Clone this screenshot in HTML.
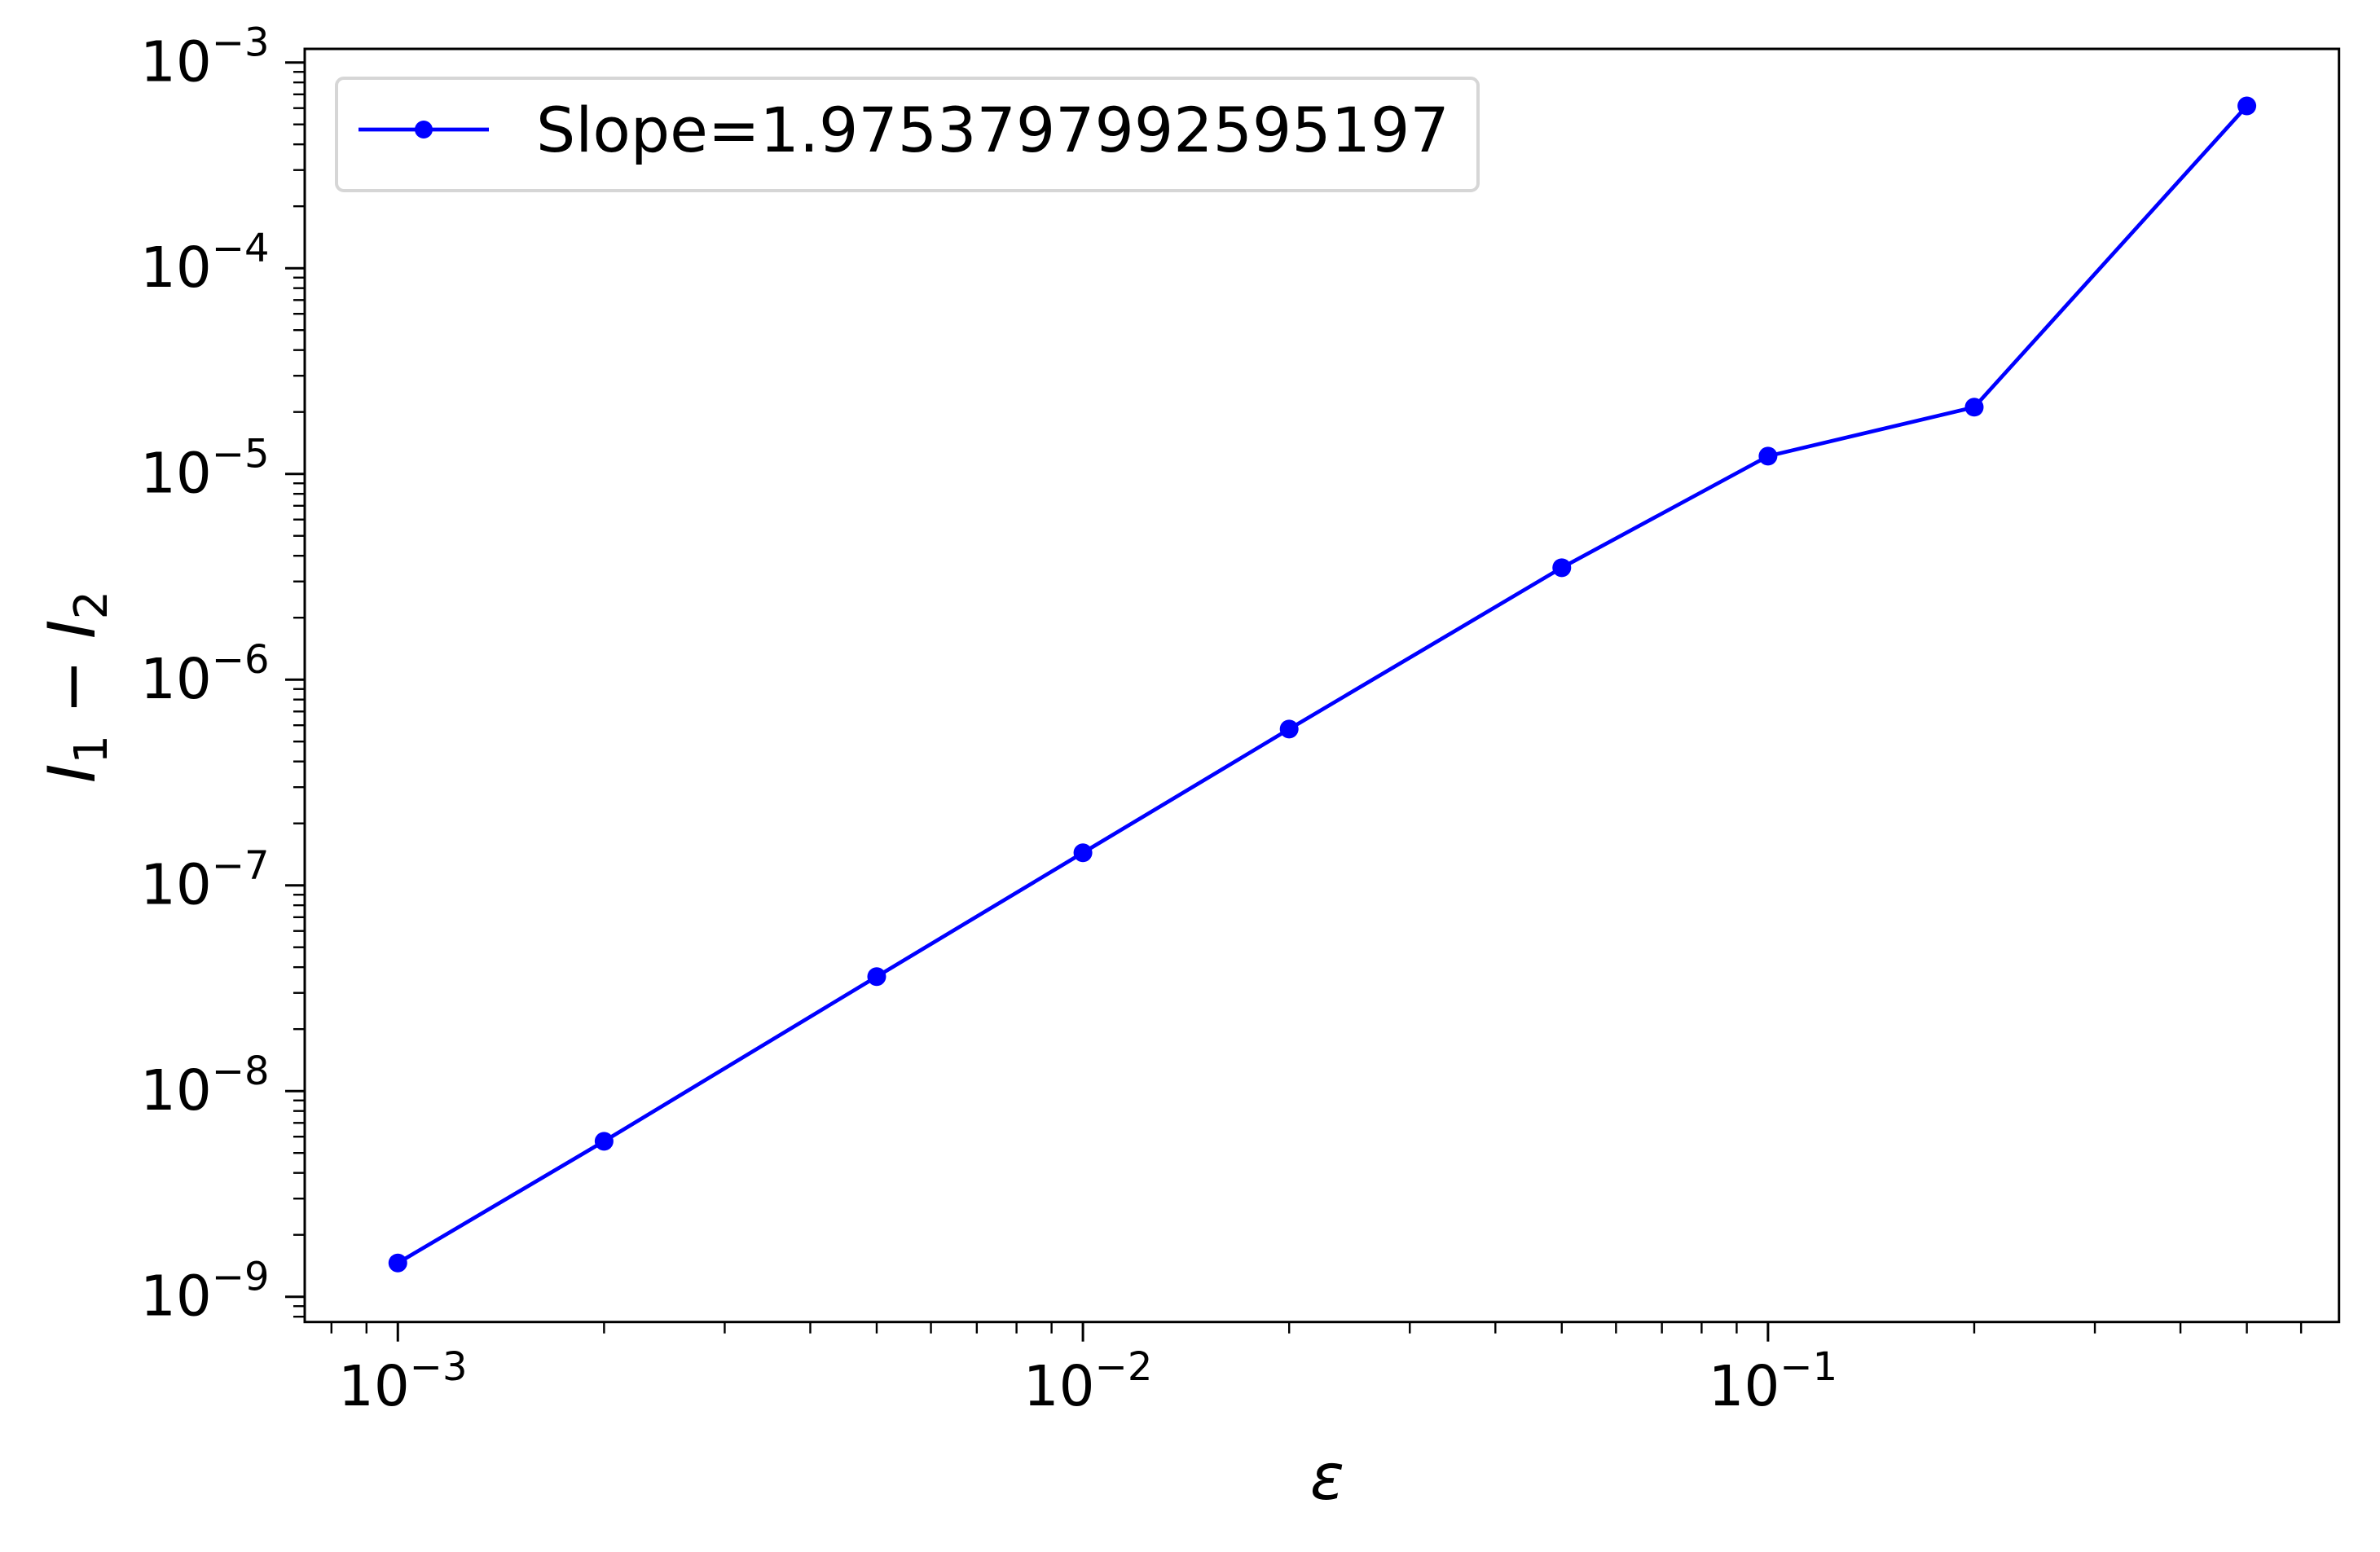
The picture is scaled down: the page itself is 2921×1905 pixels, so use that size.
<!DOCTYPE html>
<html><head><meta charset="utf-8">
<style>
html,body{margin:0;padding:0;background:#fff;}
svg{display:block;font-family:"DejaVu Sans","Liberation Sans",sans-serif;}
</style></head>
<body>
<svg id="chart" xmlns="http://www.w3.org/2000/svg" width="2921" height="1905" viewBox="0 0 2921 1905">
<rect x="0" y="0" width="2921" height="1905" fill="#fff"/>
<g id="ticks"></g>
<g id="series"></g>
<rect x="374" y="60" width="2496.7" height="1562.7" fill="none" stroke="#000" stroke-width="3"/>
<g>
  <rect x="413" y="96" width="1401" height="138" rx="9" fill="#fff" fill-opacity="0.8" stroke="#d6d6d6" stroke-width="4"/>
  <line x1="440" y1="159" x2="600" y2="159" stroke="#0000ff" stroke-width="4.7"/>
  <circle cx="520" cy="159" r="11" fill="#0000ff"/>
  <text x="658" y="186" font-size="76" fill="#000">Slope=1.9753797992595197</text>
</g>
<text x="1629" y="1840" font-size="78" font-style="italic" text-anchor="middle">ε</text>
<text transform="translate(116,843) rotate(-90)" font-size="80" text-anchor="middle"><tspan font-style="italic">I</tspan><tspan font-size="56" dy="15">1</tspan><tspan dy="-15"> − </tspan><tspan font-style="italic">I</tspan><tspan font-size="56" dy="15">2</tspan></text>
</svg>
<script>
const epsValues = [0.001, 0.002, 0.005, 0.01, 0.02, 0.05, 0.1, 0.2, 0.5];
const diffValues = [1.46e-9, 5.7e-9, 3.6e-8, 1.44e-7, 5.75e-7, 3.5e-6, 1.22e-5, 2.11e-5, 6.15e-4];
const xTickExps = [-3, -2, -1];
const yTickExps = [-9, -8, -7, -6, -5, -4, -3];

const NS = "http://www.w3.org/2000/svg";
const L = 374, R = 2870.7, T = 60, B = 1622.7;
const xMin = -3.1359, xMax = -0.1665, yMin = -9.1228, yMax = -2.9339;
function xs(v){ return L + (Math.log10(v) - xMin) / (xMax - xMin) * (R - L); }
function ys(v){ return B - (Math.log10(v) - yMin) / (yMax - yMin) * (B - T); }
function mk(tag, attrs, parent){ const e = document.createElementNS(NS, tag); for (const k in attrs) e.setAttribute(k, attrs[k]); parent.appendChild(e); return e; }

const tg = document.getElementById('ticks');
for (let d = -4; d <= 0; d++) {
  for (let m = 1; m <= 9; m++) {
    const v = m * Math.pow(10, d);
    const lv = Math.log10(v);
    if (lv < xMin || lv > xMax) continue;
    const x = xs(v);
    const len = m === 1 ? 24 : 14;
    const t = mk('line', {x1: x, y1: B, x2: x, y2: B + len, stroke: '#000', 'stroke-width': m === 1 ? 3 : 2.4}, tg);
    
    
  }
}
xTickExps.forEach(e => {
  const x = xs(Math.pow(10, e));
  const t = mk('text', {x: x + 6, y: 1725, 'font-size': 69, 'text-anchor': 'middle'}, tg);
  
  
  t.innerHTML = '10<tspan font-size="48" dy="-31">−' + Math.abs(e) + '</tspan>';
});
for (let d = -10; d <= -2; d++) {
  for (let m = 1; m <= 9; m++) {
    const v = m * Math.pow(10, d);
    const lv = Math.log10(v);
    if (lv < yMin || lv > yMax) continue;
    const y = ys(v);
    const len = m === 1 ? 24 : 14;
    const t = mk('line', {x1: L - len, y1: y, x2: L, y2: y, stroke: '#000', 'stroke-width': m === 1 ? 3 : 2.4}, tg);
    
    
  }
}
yTickExps.forEach(e => {
  const y = ys(Math.pow(10, e));
  const t = mk('text', {x: 172, y: y + 23, 'font-size': 69, 'text-anchor': 'start'}, tg);
  
  
  t.innerHTML = '10<tspan font-size="48" dy="-31">−' + Math.abs(e) + '</tspan>';
});

const sg = document.getElementById('series');
const pts = epsValues.map((v, i) => xs(v).toFixed(1) + ',' + ys(diffValues[i]).toFixed(1)).join(' ');
const pl = mk('polyline', {points: pts, fill: 'none', stroke: '#0000ff', 'stroke-width': 4.7, 'stroke-linejoin': 'round'}, sg);


epsValues.forEach((v, i) => {
  const c = mk('circle', {cx: xs(v), cy: ys(diffValues[i]), r: 11.5, fill: '#0000ff'}, sg);
  
  
});
</script>
</body></html>
